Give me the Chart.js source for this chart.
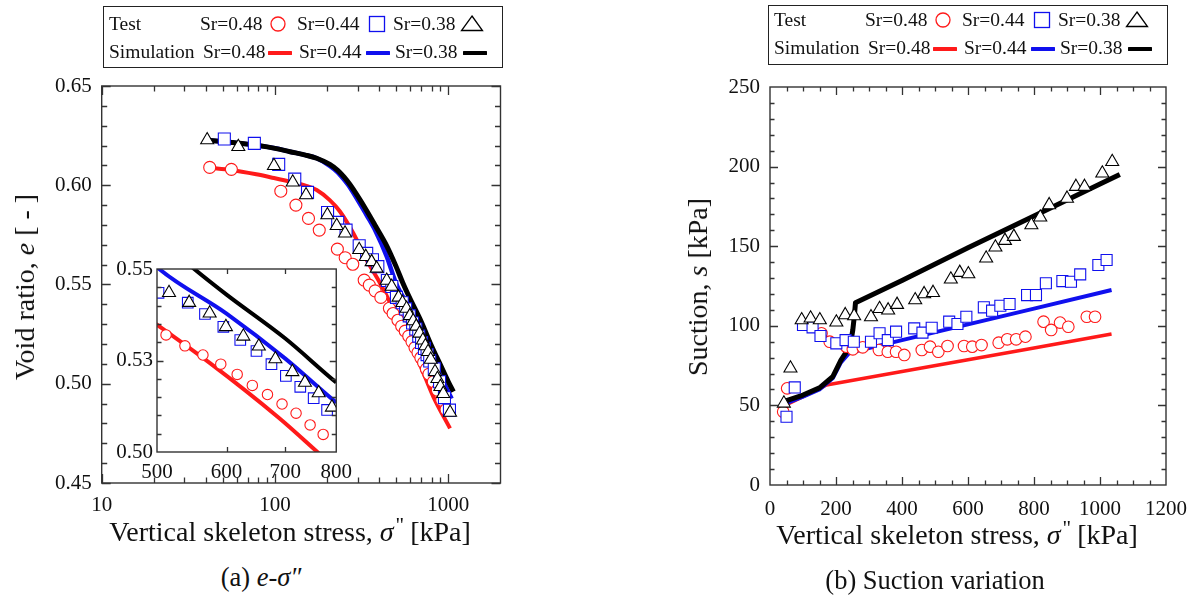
<!DOCTYPE html>
<html><head><meta charset="utf-8">
<script src="https://cdn.jsdelivr.net/npm/chart.js@4.4.1/dist/chart.umd.min.js"></script>
<style>
html,body{margin:0;padding:0;background:#fff;}
body{width:1199px;height:597px;position:relative;overflow:hidden;font-family:"Liberation Serif","Times New Roman",serif;color:#111;}
canvas{position:absolute;}
.abs{position:absolute;white-space:nowrap;line-height:1;}
.box{position:absolute;border:1.4px solid #222;box-sizing:border-box;}
.lg{font-size:19.5px;transform:translateY(-50%);}
.ttl{font-size:28px;}
.cap{font-size:26.5px;}
.dq{position:relative;top:-0.42em;font-size:0.75em;margin-left:2px;margin-right:6px;}
</style>
</head><body>
<canvas id="cL" width="540" height="480" style="left:0;top:60px"></canvas>
<canvas id="cI" width="260" height="245" style="left:100px;top:250px"></canvas>
<canvas id="cR" width="519" height="480" style="left:680px;top:60px"></canvas>

<div class="abs ttl" style="left:290px;top:532px;transform:translate(-50%,-50%)">Vertical skeleton stress, <i>σ</i><span class="dq">"</span>[kPa]</div>
<div class="abs ttl" style="left:957px;top:535px;transform:translate(-50%,-50%)">Vertical skeleton stress, <i>σ</i><span class="dq">"</span>[kPa]</div>
<div class="abs ttl" style="left:25px;top:287px;transform:translate(-50%,-50%) rotate(-90deg)">Void ratio, <i>e</i> [ - ]</div>
<div class="abs ttl" style="left:698px;top:287px;transform:translate(-50%,-50%) rotate(-90deg)">Suction, <i>s</i> [kPa]</div>
<div class="abs cap" style="left:261px;top:577px;transform:translate(-50%,-50%)">(a) <i>e</i>-<i>σ″</i></div>
<div class="abs cap" style="left:935px;top:580px;transform:translate(-50%,-50%)">(b) Suction variation</div>
<div id="legends"></div>

<script>
// ---------------- DATA ----------------
// (a) e - sigma'' : test data (Sr = 0.48, 0.44, 0.38)
const eTestX048 = [42, 56, 108, 132, 156, 180, 229, 254, 281, 327, 350, 378, 408, 457, 480, 512, 538, 564, 591, 617, 642, 668, 694, 720, 747, 773, 819, 864, 916, 970];
const eTestY048 = [0.609, 0.608, 0.597, 0.590, 0.5833, 0.5774, 0.5678, 0.5635, 0.5602, 0.5522, 0.5497, 0.5468, 0.5435, 0.538, 0.5354, 0.532, 0.529, 0.5265, 0.524, 0.5212, 0.5182, 0.5157, 0.5131, 0.5106, 0.5074, 0.5048, 0.501, 0.4968, 0.4917, 0.487];
const eTestX044 = [51, 76, 105, 130, 154, 201, 230, 257, 306, 338, 365, 392, 445, 472, 502, 542, 567, 595, 622, 649, 675, 701, 728, 754, 781, 830, 890, 950, 1015];
const eTestY044 = [0.6233, 0.6211, 0.6105, 0.6031, 0.5964, 0.5863, 0.5813, 0.5774, 0.5695, 0.5657, 0.5625, 0.559, 0.552, 0.549, 0.5435, 0.5408, 0.5377, 0.5342, 0.5306, 0.5276, 0.524, 0.5208, 0.5178, 0.5147, 0.5115, 0.5075, 0.501, 0.493, 0.4867];
const eTestX038 = [40.6, 61.4, 98.6, 126.5, 151, 200.5, 227, 253.5, 306, 334, 361, 386, 441, 471, 516, 544, 574, 599, 627, 653, 682, 713, 737, 764, 791, 838, 865, 900, 935, 1023];
const eTestY038 = [0.6228, 0.6194, 0.6098, 0.6015, 0.5951, 0.585, 0.5796, 0.5758, 0.5675, 0.564, 0.5614, 0.5581, 0.552, 0.549, 0.5435, 0.5408, 0.5379, 0.5342, 0.5316, 0.5289, 0.5254, 0.5219, 0.519, 0.5161, 0.5122, 0.506, 0.5025, 0.4985, 0.495, 0.4855];
// (a) simulation
const eSimX048 = [42, 56, 78, 100, 122, 150, 174, 207, 237, 283, 338, 404, 482, 575, 687, 819, 1023];
const eSimY048 = [0.6088, 0.6077, 0.6055, 0.6035, 0.6018, 0.5998, 0.5976, 0.5925, 0.5868, 0.5758, 0.5623, 0.5506, 0.5375, 0.5242, 0.5095, 0.4935, 0.4775];
const eSimX044 = [40, 60, 80, 100, 122, 150, 174, 207, 230, 250, 270, 300, 340, 380, 441, 500, 600, 700, 800, 900, 1045];
const eSimY044 = [0.6228, 0.6213, 0.620, 0.6186, 0.6169, 0.6152, 0.6136, 0.6098, 0.6065, 0.6028, 0.599, 0.5925, 0.5845, 0.577, 0.5642, 0.5505, 0.5378, 0.5255, 0.5135, 0.5042, 0.4925];
const eSimX038 = [40, 60, 80, 100, 122, 150, 174, 207, 230, 250, 270, 300, 340, 380, 441, 500, 545, 600, 700, 800, 900, 1000, 1070];
const eSimY038 = [0.6228, 0.6213, 0.620, 0.6186, 0.6169, 0.6152, 0.6136, 0.6105, 0.6075, 0.6042, 0.6005, 0.5945, 0.5868, 0.5795, 0.5695, 0.559, 0.551, 0.543, 0.531, 0.519, 0.5095, 0.501, 0.496];

// (b) suction : test data
const sTestX048 = [40, 52, 156, 181, 231, 251, 281, 330, 357, 382, 407, 460, 485, 510, 538, 588, 613, 641, 693, 719, 746, 774, 829, 852, 879, 904, 960, 985];
const sTestY048 = [46, 60.7, 95.3, 90, 86.9, 85.2, 86.5, 84.8, 83.7, 83.7, 81.7, 84.8, 86.9, 83.7, 87.3, 87.3, 86.9, 87.9, 89.4, 91.5, 91.5, 93.2, 102.6, 97.4, 102, 99.4, 105.7, 105.7];
const sTestX044 = [50, 75, 100, 129, 153, 201, 229, 254, 306, 332, 357, 382, 437, 462, 490, 543, 568, 595, 648, 673, 698, 726, 779, 806, 836, 886, 912, 940, 995, 1020];
const sTestY044 = [42.9, 61.3, 100.5, 99, 93.6, 89, 91, 90, 90, 95.3, 91, 96.3, 98.4, 95.7, 98.8, 102.6, 101.1, 105.7, 111.6, 109.5, 112.6, 113.7, 119.3, 119.3, 126.7, 128.1, 127.7, 132.3, 138.2, 141.3];
const sTestX038 = [42, 62, 96, 123, 151, 201, 228, 255, 306, 332, 358, 385, 440, 467, 494, 548, 575, 601, 655, 683, 712, 739, 792, 819, 846, 900, 927, 953, 1007, 1037];
const sTestY038 = [51.3, 73.3, 103.6, 104.7, 103.6, 102.2, 106.8, 106.2, 105.5, 110.7, 109.8, 113.3, 116.2, 120, 120.8, 129.2, 133.4, 132.5, 142.4, 149.3, 153.5, 156, 163.3, 168.2, 175.9, 180, 187.4, 187.4, 195.8, 203];
// (b) simulation
const sSimX048 = [50, 100, 150, 171, 400, 600, 800, 1035];
const sSimY048 = [50.5, 55.5, 60.5, 62.8, 71.3, 78.7, 86.1, 94.8];
const sSimX044 = [50, 100, 150, 190, 215, 240, 400, 600, 800, 1035];
const sSimY044 = [51.5, 55.5, 60, 67, 77, 83, 91, 100.9, 110.8, 122.5];
const sSimX038 = [50, 100, 150, 190, 215, 236, 245, 251, 256, 259, 400, 600, 800, 1000, 1060];
const sSimY038 = [53, 56.5, 61, 68, 78.5, 85, 90, 97.5, 107, 114.5, 128.5, 149, 169, 189, 195];

// tick label lists
const eYTicks = [0.45, 0.50, 0.55, 0.60, 0.65];
const eXLabels = [10, 100, 1000];
const insetXLabels = [500, 600, 700, 800];
const insetYLabels = {'0.5': '0.50', '0.525': '0.53', '0.55': '0.55'};
const sXTicks = [0, 200, 400, 600, 800, 1000, 1200];
const sYTicks = [0, 50, 100, 150, 200, 250];

// ---------------- STYLE ----------------
const FONT = '"Liberation Serif", "Times New Roman", serif';
const RED = '#ff1a1a', BLUE = '#1010ee', BLACK = '#000';

function pts(xs, ys) { return xs.map((x, i) => ({x: x, y: ys[i]})); }
function markerDS(xs, ys, style, color, r, bw) {
  return {data: pts(xs, ys), showLine: false, pointStyle: style, pointRadius: r, pointHoverRadius: r,
    pointBorderColor: color, pointBackgroundColor: '#fff', pointBorderWidth: bw, borderColor: color, backgroundColor: '#fff'};
}
function lineDS(xs, ys, color, w, smooth) {
  const d = {data: pts(xs, ys), showLine: true, borderColor: color, borderWidth: w, pointRadius: 0, pointHoverRadius: 0,
    fill: false, tension: 0, borderCapStyle: 'butt', borderJoinStyle: 'round'};
  if (smooth) d.cubicInterpolationMode = 'monotone';
  return d;
}

const frameTicks = {
  id: 'frameTicks',
  beforeDraw(chart, args, o) {
    if (!o.fill) return;
    const a = chart.chartArea, ctx = chart.ctx;
    ctx.save(); ctx.fillStyle = o.fill; ctx.fillRect(a.left, a.top, a.right - a.left, a.bottom - a.top); ctx.restore();
  },
  afterDatasetsDraw(chart, args, o) {
    const a = chart.chartArea, ctx = chart.ctx, sx = chart.scales.x, sy = chart.scales.y;
    ctx.save();
    ctx.strokeStyle = '#333'; ctx.lineWidth = 1.3;
    ctx.beginPath();
    (o.x || []).forEach(t => {
      const p = Math.round(sx.getPixelForValue(t[0])) + 0.5;
      ctx.moveTo(p, a.bottom); ctx.lineTo(p, a.bottom - t[1]);
      ctx.moveTo(p, a.top); ctx.lineTo(p, a.top + t[1]);
    });
    (o.y || []).forEach(t => {
      const p = Math.round(sy.getPixelForValue(t[0])) + 0.5;
      ctx.moveTo(a.left, p); ctx.lineTo(a.left + t[1], p);
      ctx.moveTo(a.right, p); ctx.lineTo(a.right - t[1], p);
    });
    ctx.stroke();
    ctx.lineWidth = 1.4;
    ctx.strokeRect(a.left, a.top, a.right - a.left, a.bottom - a.top);
    ctx.restore();
  }
};

function baseOpts(padding) {
  return {responsive: false, animation: false, devicePixelRatio: 1, events: [],
    layout: {padding: padding},
    plugins: {legend: {display: false}, tooltip: {enabled: false}}};
}
function axisCommon(size, pad) {
  return {grid: {display: false, drawTicks: false}, border: {display: false},
    ticks: {autoSkip: false, maxRotation: 0, padding: pad, color: '#111', font: {family: FONT, size: size}}};
}

// ---------- (a) main ----------
const leftX = [], leftY = [];
[10, 100, 1000].forEach(d => { for (let k = 1; k <= 9; k++) { const v = d * k; if (v < 2000) leftX.push([v, k === 1 ? 9 : 5.5]); } });
for (let i = 0; i <= 20; i++) { const v = 0.45 + i * 0.01; leftY.push([v, i % 5 === 0 ? 9 : 5.5]); }

function isDecade(v) { const l = Math.log10(v); return Math.abs(l - Math.round(l)) < 1e-6; }

const dsE = [
  markerDS(eTestX038, eTestY038, 'triangle', BLACK, 7.5, 1.1),
  markerDS(eTestX044, eTestY044, 'rect', BLUE, 8.5, 1.1),
  markerDS(eTestX048, eTestY048, 'circle', RED, 6, 1.1),
  lineDS(eSimX038, eSimY038, BLACK, 5, true),
  lineDS(eSimX044, eSimY044, BLUE, 4.5, true),
  lineDS(eSimX048, eSimY048, RED, 4, true)
];
const optL = baseOpts({left: 0, right: 39.5, top: 26, bottom: 17});
optL.scales = {
  x: Object.assign(axisCommon(21, 10), {type: 'logarithmic', min: 10, max: 2000, afterFit(s) { s.height = 40; }}),
  y: Object.assign(axisCommon(21, 10), {type: 'linear', min: 0.45, max: 0.65, afterFit(s) { s.width = 101.7; }})
};
optL.scales.x.ticks.callback = v => (isDecade(v) && eXLabels.indexOf(Math.round(v)) >= 0) ? String(Math.round(v)) : '';
optL.scales.y.ticks.stepSize = 0.05;
optL.scales.y.ticks.callback = v => { const m = eYTicks.find(t => Math.abs(t - v) < 1e-6); return m !== undefined ? m.toFixed(2) : ''; };
optL.plugins.frameTicks = {x: leftX, y: leftY};
new Chart(document.getElementById('cL'), {type: 'scatter', data: {datasets: dsE}, options: optL, plugins: [frameTicks]});

// ---------- (a) inset ----------
const dsI = [
  markerDS(eTestX038, eTestY038, 'triangle', BLACK, 7.5, 1.1),
  markerDS(eTestX044, eTestY044, 'rect', BLUE, 7.5, 1.1),
  markerDS(eTestX048, eTestY048, 'circle', RED, 5.2, 1.1),
  lineDS(eSimX038, eSimY038, BLACK, 4, true),
  lineDS(eSimX044, eSimY044, BLUE, 4, true),
  lineDS(eSimX048, eSimY048, RED, 4, true)
].map(d => Object.assign(d, {clip: 0}));
const insX = [[600, 5], [700, 5]], insY = [];
for (let i = 1; i < 10; i++) insY.push([0.5 + i * 0.005, i === 5 ? 6.5 : 4.5]);
const optI = baseOpts({left: 0, right: 18, top: 19, bottom: 13});
optI.scales = {
  x: Object.assign(axisCommon(21, 8), {type: 'logarithmic', min: 500, max: 800, afterFit(s) { s.height = 30; }}),
  y: Object.assign(axisCommon(21, 4), {type: 'linear', min: 0.5, max: 0.55, afterFit(s) { s.width = 57; }})
};
optI.scales.x.ticks.callback = v => insetXLabels.indexOf(Math.round(v)) >= 0 ? String(Math.round(v)) : '';
optI.scales.y.ticks.stepSize = 0.005;
optI.scales.y.ticks.callback = v => { const k = String(Math.round(v * 1000) / 1000); return insetYLabels[k] || ''; };
optI.plugins.frameTicks = {x: insX, y: insY, fill: '#fff'};
new Chart(document.getElementById('cI'), {type: 'scatter', data: {datasets: dsI}, options: optI, plugins: [frameTicks]});

// ---------- (b) suction ----------
const dsS = [
  markerDS(sTestX038, sTestY038, 'triangle', BLACK, 7.5, 1.1),
  markerDS(sTestX044, sTestY044, 'rect', BLUE, 7.8, 1.1),
  markerDS(sTestX048, sTestY048, 'circle', RED, 5.8, 1.1),
  lineDS(sSimX038, sSimY038, BLACK, 5, false),
  lineDS(sSimX044, sSimY044, BLUE, 4, false),
  lineDS(sSimX048, sSimY048, RED, 3.5, false)
];
const rX = [], rY = [];
for (let v = 50; v < 1200; v += 50) rX.push([v, v % 200 === 0 ? 8 : 4.5]);
for (let v = 10; v < 250; v += 10) rY.push([v, v % 50 === 0 ? 8 : 4.5]);
const optR = baseOpts({left: 0, right: 31, top: 27, bottom: 15});
optR.scales = {
  x: Object.assign(axisCommon(21, 12), {type: 'linear', min: 0, max: 1200, afterFit(s) { s.height = 40; }}),
  y: Object.assign(axisCommon(21, 10), {type: 'linear', min: 0, max: 250, afterFit(s) { s.width = 90; }})
};
optR.scales.x.ticks.stepSize = 200;
optR.scales.x.ticks.callback = v => sXTicks.indexOf(v) >= 0 ? String(v) : '';
optR.scales.y.ticks.stepSize = 50;
optR.scales.y.ticks.callback = v => sYTicks.indexOf(v) >= 0 ? String(v) : '';
optR.plugins.frameTicks = {x: rX, y: rY};
new Chart(document.getElementById('cR'), {type: 'scatter', data: {datasets: dsS}, options: optR, plugins: [frameTicks]});

// ---------- legends ----------
const legendSeries = ['Sr=0.48', 'Sr=0.44', 'Sr=0.38'];
function svgSym(kind, color) {
  if (kind === 'circle') return '<svg width="18" height="18"><circle cx="9" cy="9" r="7" fill="#fff" stroke="' + color + '" stroke-width="1.3"/></svg>';
  if (kind === 'rect') return '<svg width="18" height="18"><rect x="1.5" y="1.5" width="15" height="15" fill="#fff" stroke="' + color + '" stroke-width="1.3"/></svg>';
  if (kind === 'tri') return '<svg width="24" height="18"><polygon points="12,2 22.5,16.5 1.5,16.5" fill="#fff" stroke="' + color + '" stroke-width="1.3"/></svg>';
  return '<svg width="24" height="6"><line x1="1" y1="3" x2="23" y2="3" stroke="' + color + '" stroke-width="4" stroke-linecap="round"/></svg>';
}
function buildLegend(left, top, w, h, r1, r2) {
  let html = '<div class="box" style="left:' + left + 'px;top:' + top + 'px;width:' + w + 'px;height:' + h + 'px"></div>';
  const t = (x, y, s) => '<div class="abs lg" style="left:' + (left + x) + 'px;top:' + y + 'px">' + s + '</div>';
  const sym = (cx, y, s, wd, ht) => '<div class="abs" style="left:' + (left + cx - wd / 2) + 'px;top:' + (y - ht / 2) + 'px;width:' + wd + 'px;height:' + ht + 'px;line-height:0">' + s + '</div>';
  html += t(6, r1, 'Test');
  html += t(97, r1, legendSeries[0]) + sym(175, r1, svgSym('circle', RED), 18, 18);
  html += t(194, r1, legendSeries[1]) + sym(274, r1, svgSym('rect', BLUE), 18, 18);
  html += t(290, r1, legendSeries[2]) + sym(369, r1 - 1, svgSym('tri', BLACK), 24, 18);
  html += t(6, r2, 'Simulation');
  html += t(100, r2, legendSeries[0]) + sym(177, r2 + 1, svgSym('line', RED), 24, 6);
  html += t(196, r2, legendSeries[1]) + sym(275, r2 + 1, svgSym('line', BLUE), 24, 6);
  html += t(292, r2, legendSeries[2]) + sym(372, r2 + 1, svgSym('line', BLACK), 24, 6);
  return html;
}
document.getElementById('legends').innerHTML = buildLegend(103, 6, 400, 62, 24, 52) + buildLegend(768, 5, 400, 60, 20, 48);
</script>
</body></html>
